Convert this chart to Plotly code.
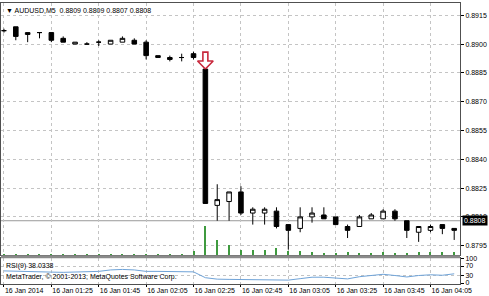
import plotly.graph_objects as go

# ---------------- data ----------------
times = ["01:05", "01:10", "01:15", "01:20", "01:25", "01:30", "01:35", "01:40",
         "01:45", "01:50", "01:55", "02:00", "02:05", "02:10", "02:15", "02:20",
         "02:25", "02:30", "02:35", "02:40", "02:45", "02:50", "02:55", "03:00",
         "03:05", "03:10", "03:15", "03:20", "03:25", "03:30", "03:35", "03:40",
         "03:45", "03:50", "03:55", "04:00", "04:05", "04:10", "04:15"]
opens = [0.8907, 0.8909, 0.8905, 0.8906, 0.8906, 0.8903, 0.8900, 0.8900,
         0.8901, 0.8900, 0.8901, 0.8902, 0.8901, 0.8893, 0.8893, 0.8893,
         0.8895, 0.8887, 0.8816, 0.8818, 0.8823, 0.8812, 0.8812, 0.8813,
         0.8806, 0.8804, 0.8810, 0.8811, 0.8810, 0.8805, 0.8805, 0.8809,
         0.8809, 0.8813, 0.8808, 0.8802, 0.8803, 0.8806, 0.8804]
highs = [0.8908, 0.8909, 0.8906, 0.8906, 0.8906, 0.8904, 0.8901, 0.8901,
         0.8902, 0.8902, 0.8904, 0.8903, 0.8902, 0.8894, 0.8894, 0.8895,
         0.8896, 0.8887, 0.8827, 0.8823, 0.8826, 0.8815, 0.8815, 0.8815,
         0.8806, 0.8815, 0.8815, 0.8815, 0.8810, 0.8806, 0.8811, 0.8812,
         0.8814, 0.8814, 0.8808, 0.8805, 0.8806, 0.8806, 0.8804]
lows = [0.8906, 0.8902, 0.8901, 0.8903, 0.8901, 0.8901, 0.8900, 0.8900,
        0.8899, 0.8900, 0.8901, 0.8900, 0.8892, 0.8893, 0.8891, 0.8891,
        0.8892, 0.8817, 0.8808, 0.8808, 0.8811, 0.8806, 0.8806, 0.8804,
        0.8793, 0.8802, 0.8807, 0.8809, 0.8806, 0.8799, 0.8805, 0.8809,
        0.8809, 0.8808, 0.8799, 0.8797, 0.8802, 0.8801, 0.8798]
closes = [0.8907, 0.8904, 0.8906, 0.8906, 0.8902, 0.8901, 0.8901, 0.8900,
          0.8901, 0.8902, 0.8903, 0.8900, 0.8894, 0.8894, 0.8892, 0.8893,
          0.8893, 0.8817, 0.8819, 0.8823, 0.8812, 0.8814, 0.8814, 0.8805,
          0.8803, 0.8810, 0.8812, 0.8809, 0.8806, 0.8803, 0.8810, 0.8811,
          0.8813, 0.8809, 0.8803, 0.8805, 0.8805, 0.8804, 0.8803]
volumes = [10, 15, 8, 15, 8, 8, 6, 6, 8, 8, 8, 8, 15, 10, 10, 8,
           45, 300, 150, 100, 50, 50, 50, 70, 40, 40, 30, 20, 20, 30, 20, 20,
           30, 20, 20, 30, 30, 30, 30]
rsi = [50, 48, 46, 46, 45, 44, 45, 46, 48, 54, 56, 54, 48, 48, 47, 48,
       46, 22, 16, 15, 14, 14, 14, 13, 12, 18, 24, 24, 20, 17, 26, 31,
       36, 31, 25, 31, 34, 32, 38]

tick_idx = [0, 4, 8, 12, 16, 20, 24, 28, 32, 36]
tick_labels = ["16 Jan 2014", "16 Jan 01:25", "16 Jan 01:45", "16 Jan 02:05",
               "16 Jan 02:25", "16 Jan 02:45", "16 Jan 03:05", "16 Jan 03:25",
               "16 Jan 03:45", "16 Jan 04:05"]
price_ticks = [0.8915, 0.8900, 0.8885, 0.8870, 0.8855, 0.8840, 0.8825, 0.8810, 0.8795]
rsi_ticks = [100, 70, 30, 0]
BID = 0.8808
SIGNAL_BAR = 17
HEADER = "\u25bc AUDUSD,M5  0.8809 0.8809 0.8807 0.8808"
RSI_TEXT = "RSI(9) 38.0338"
COPY_TEXT = "MetaTrader, \u00a9 2001-2013, MetaQuotes Software Corp."

# ---------------- figure ----------------
FONT = "Liberation Sans, Arial, sans-serif"
W, H = 489, 296
ML, MR, MT, MB = 1, 29, 0, 12
plot_h = H - MT - MB
main_bottom = (plot_h - 255) / plot_h
rsi_top = (plot_h - 258) / plot_h

x = list(range(len(times)))

fig = go.Figure()

fig.add_trace(go.Bar(
    x=x, y=volumes, xaxis="x", yaxis="y2", width=0.09,
    marker=dict(color="#3f9a3f", line=dict(width=0)),
    hoverinfo="skip", showlegend=False))

fig.add_trace(go.Candlestick(
    x=x, open=opens, high=highs, low=lows, close=closes,
    xaxis="x", yaxis="y",
    increasing=dict(fillcolor="#ffffff", line=dict(color="#000000", width=1)),
    decreasing=dict(fillcolor="#000000", line=dict(color="#000000", width=1)),
    whiskerwidth=0, showlegend=False))

# signal arrow above the spike bar (derived from the bar's index and high)
sx = x[SIGNAL_BAR]
tip = highs[SIGNAL_BAR]
head = tip + 0.00042
top = tip + 0.00088
hw, sw = 0.66, 0.21
ax_ = [sx, sx - hw, sx - sw, sx - sw, sx + sw, sx + sw, sx + hw, sx]
ay_ = [tip, head, head, top, top, head, head, tip]
fig.add_trace(go.Scatter(
    x=ax_, y=ay_, xaxis="x", yaxis="y", mode="lines", fill="toself",
    fillcolor="#ffffff", line=dict(color="#c8283c", width=1.6),
    hoverinfo="skip", showlegend=False))

fig.add_trace(go.Scatter(
    x=x, y=rsi, xaxis="x2", yaxis="y3", mode="lines",
    line=dict(color="#6fa3d8", width=1), hoverinfo="skip", showlegend=False))

xr = [-0.25, 38.49]
grid = dict(gridcolor="#c4c4c4", griddash="dot", gridwidth=1)

fig.update_layout(
    width=W, height=H,
    margin=dict(l=ML, r=MR, t=MT, b=MB, pad=0),
    paper_bgcolor="#ffffff", plot_bgcolor="#ffffff",
    font=dict(family=FONT, size=7, color="#000000"),
    boxgap=0.45,
    bargap=0,
    xaxis=dict(domain=[0, 1], anchor="y", range=xr, tickvals=tick_idx,
               showticklabels=False, ticks="", rangeslider=dict(visible=False),
               showline=True, mirror=True, linecolor="#505050", linewidth=1,
               zeroline=False, **grid),
    xaxis2=dict(domain=[0, 1], anchor="y3", range=xr, matches="x",
                tickvals=tick_idx, ticktext=tick_labels, tickangle=0,
                ticklabelposition="outside right", ticks="outside", ticklen=2,
                tickcolor="#000000", tickfont=dict(size=7, family=FONT),
                showline=True, mirror=True, linecolor="#505050", linewidth=1,
                zeroline=False, **grid),
    yaxis=dict(domain=[main_bottom, 1], anchor="x", side="right",
               range=[0.87900, 0.89214], tickvals=price_ticks,
               tickformat=".4f", ticks="outside", ticklen=3, tickcolor="#000000",
               tickfont=dict(size=7, family=FONT),
               showline=True, mirror=True, linecolor="#505050", linewidth=1,
               zeroline=False, **grid),
    yaxis2=dict(overlaying="y", anchor="x", range=[0, 2550], visible=False),
    yaxis3=dict(domain=[0, rsi_top], anchor="x2", side="right",
                range=[-4, 102], tickvals=rsi_ticks, ticks="outside", ticklen=3,
                tickcolor="#000000", tickfont=dict(size=7, family=FONT),
                showline=True, mirror=True, linecolor="#505050", linewidth=1,
                zeroline=False, **grid),
)

# separator between panels
fig.add_shape(type="rect", xref="paper", yref="paper", x0=0, x1=1,
              y0=rsi_top, y1=main_bottom, fillcolor="#8a8a8a",
              line=dict(width=0), layer="above")

# bid line
fig.add_shape(type="line", xref="x", yref="y", x0=xr[0], x1=xr[1],
              y0=BID, y1=BID, line=dict(color="#9a9a9a", width=1), layer="below")

fig.add_annotation(xref="paper", yref="y", x=1.0, y=BID, xanchor="left",
                   yanchor="middle", xshift=2, text=f"{BID:.4f}", showarrow=False,
                   bgcolor="#000000", font=dict(color="#ffffff", size=7, family=FONT),
                   borderpad=1)

fig.add_annotation(xref="paper", yref="paper", x=0.0, y=1.0, xanchor="left",
                   yanchor="top", xshift=3, yshift=-2, text=HEADER, showarrow=False,
                   font=dict(size=7, family=FONT))
fig.add_annotation(xref="paper", yref="paper", x=0.0, y=rsi_top, xanchor="left",
                   yanchor="top", xshift=3, yshift=-2, text=RSI_TEXT, showarrow=False,
                   font=dict(size=7, family=FONT))
fig.add_annotation(xref="paper", yref="paper", x=0.0, y=0.0, xanchor="left",
                   yanchor="bottom", xshift=3, yshift=1, text=COPY_TEXT, showarrow=False,
                   font=dict(size=7, family=FONT))

fig.write_html("out.html")
